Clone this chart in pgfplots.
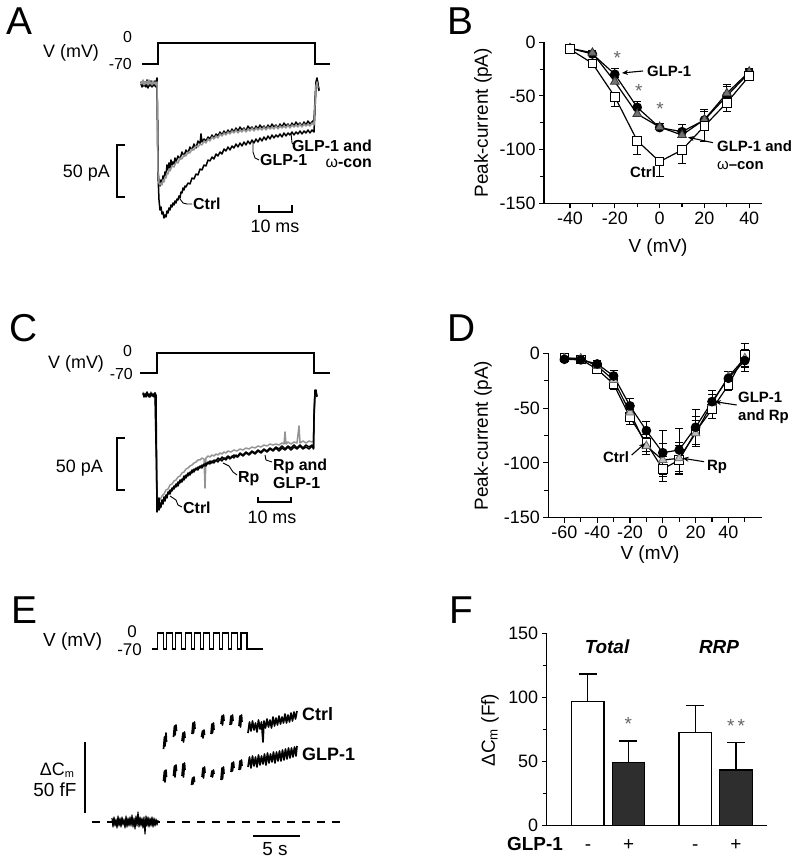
\documentclass[border=0pt]{standalone}
\usepackage{fontspec}
\setmainfont{Liberation Sans}
\usepackage{pgfplots}
\pgfplotsset{compat=1.18}
\usetikzlibrary{arrows.meta}
\newcommand\fs[1]{\fontsize{#1}{#1}\selectfont}
\pgfplotsset{
  iv/.style={
    scale only axis, axis lines=left, axis line style={-, line width=1.1bp},
    tick align=outside, major tick length=5bp, minor tick length=4bp,
    tick style={line width=1.1bp, black},
    /pgf/number format/assume math mode=true,
    ticklabel style={font=\fs{18}},
    label style={font=\fs{19}},
    clip=false,
  },
  trace/.style={no markers, line width=1.5bp, black, line join=round},
  bar/.style={no markers, line width=1.3bp, black},
  eb/.style={error bars/y explicit, error bars/error bar style={line width=1bp, black},
     error bars/error mark options={rotate=90, line width=1bp, mark size=4bp, black}},
  ctrlB/.style={black, line width=1.2bp, mark=square*, mark size=4.3bp, mark options={fill=white, draw=black, line width=1bp}, eb},
  glpB/.style={black, line width=1.2bp, mark=*, mark size=4.2bp, mark options={fill=black, draw=black}, eb},
  triB/.style={black, line width=1.2bp, mark=triangle*, mark size=5bp, mark options={fill=black!55, draw=black!80, line width=0.8bp}, eb},
}
\tikzset{lab/.style={inner sep=0pt, font=\fs{16}\bfseries},
         lb/.style={inner sep=0pt, font=\fs{15}\bfseries},
         tx/.style={inner sep=0pt, font=\fs{18}},
         big/.style={inner sep=0pt, font=\fs{39}}}
\begin{document}
\begin{tikzpicture}[x=1bp,y=1bp]
\useasboundingbox (0,0) rectangle (800,863);

% ---------------- Panel B ----------------
\begin{axis}[iv, at={(544bp,659.7bp)}, anchor=south west, width=218bp, height=161bp,
  xmin=-51.6, xmax=45.7, ymin=-150, ymax=0,
  xtick={-40,-20,0,20,40}, minor xtick={-30,-10,10,30},
  ytick={-150,-100,-50,0}, minor ytick={-125,-75,-25},
  xlabel={V (mV)}, ylabel={Peak-current (pA)},
  xlabel style={at={(axis description cs:0.523,-0.278)}, anchor=center},
  ylabel style={at={(axis description cs:-0.28,0.5)}, anchor=center}]
\addplot[glpB, error bars/y dir=plus] coordinates {
 (-40,-5.6) +- (0,1) (-30,-10.9) +- (0,2) (-20,-29.8) +- (0,5) (-10,-60.6) +- (0,5.3)
 (0,-79.5) +- (0,3.5) (10,-83.3) +- (0,7) (20,-72.4) +- (0,8) (30,-50) +- (0,8.6) (40,-28.3) +- (0,3)};
\addplot[triB, error bars/y dir=plus] coordinates {
 (-40,-5.6) +- (0,1) (-30,-9.8) +- (0,2) (-20,-36.7) +- (0,4) (-10,-66.8) +- (0,4)
 (0,-79) +- (0,3) (10,-86.4) +- (0,5) (20,-72) +- (0,9) (30,-47.5) +- (0,8) (40,-27.4) +- (0,3)};
\addplot[ctrlB, error bars/y dir=minus] coordinates {
 (-40,-6.5) +- (0,1) (-30,-19.6) +- (0,2) (-20,-50.7) +- (0,8.7) (-10,-91.7) +- (0,12.4)
 (0,-111.2) +- (0,13.4) (10,-100.3) +- (0,13) (20,-78) +- (0,14.6) (30,-56.3) +- (0,8.3) (40,-31.4) +- (0,3.6)};
\end{axis}

% ---------------- Panel D ----------------
\begin{axis}[iv, at={(548.3bp,345.3bp)}, anchor=south west, width=213.7bp, height=164.4bp,
  xmin=-69.8, xmax=60.5, ymin=-150, ymax=0,
  xtick={-60,-40,-20,0,20,40}, minor xtick={-50,-30,-10,10,30,50},
  ytick={-150,-100,-50,0}, minor ytick={-125,-75,-25},
  xlabel={V (mV)}, ylabel={Peak-current (pA)},
  xlabel style={at={(axis description cs:0.476,-0.227)}, anchor=center},
  ylabel style={at={(axis description cs:-0.306,0.5)}, anchor=center}]
\addplot[ctrlB, error bars/y dir=both] coordinates {
 (-60,-4) +- (0,1.5) (-50,-5.5) +- (0,1.5) (-40,-14.6) +- (0,3) (-30,-28) +- (0,5) (-20,-58.4) +- (0,7)
 (-10,-82) +- (0,8) (0,-105.6) +- (0,11) (10,-97.4) +- (0,13) (20,-71.5) +- (0,14) (30,-51.1) +- (0,8)
 (40,-28.9) +- (0,5) (50,-1.5) +- (0,10.5)};
\addplot[triB, mark options={fill=black!25, draw=black!60, line width=0.8bp}, error bars/y dir=both] coordinates {
 (-60,-4.6) +- (0,1.5) (-50,-4.6) +- (0,1.5) (-40,-11.6) +- (0,3) (-30,-24.3) +- (0,5) (-20,-54) +- (0,7)
 (-10,-84.6) +- (0,8) (0,-97.4) +- (0,15) (10,-95.8) +- (0,14) (20,-73) +- (0,12) (30,-45.6) +- (0,8)
 (40,-21.3) +- (0,5) (50,-4.6) +- (0,8)};
\addplot[glpB, error bars/y dir=both] coordinates {
 (-60,-5.5) +- (0,1.5) (-50,-6) +- (0,1.5) (-40,-9.7) +- (0,3) (-30,-20.7) +- (0,5) (-20,-48) +- (0,7)
 (-10,-70.6) +- (0,8) (0,-90.7) +- (0,20) (10,-88.2) +- (0,20) (20,-67.5) +- (0,16) (30,-44.1) +- (0,10)
 (40,-22.8) +- (0,6) (50,-6.7) +- (0,10)};
\end{axis}

% ---------------- Panel F ----------------
\begin{axis}[iv, at={(546.7bp,37.3bp)}, anchor=south west, width=220.3bp, height=192.4bp,
  xmin=-1.007, xmax=4.4, ymin=0, ymax=150,
  xtick=\empty, ytick={0,50,100,150}, minor ytick={25,75,125},
  ylabel={ΔC\textsubscript{m} (Ff)},
  ylabel style={at={(axis description cs:-0.257,0.497)}, anchor=center}]
\addplot[ybar, bar width=0.8, bar shift=0pt, fill=white, draw=black, line width=1.3bp,
  error bars/.cd, y dir=plus, y explicit, error bar style={line width=1.3bp}, error mark options={rotate=90, line width=1.3bp, mark size=9bp}]
  coordinates {(0,96.6) +- (0,21.6) (2.64,72.5) +- (0,21.3)};
\addplot[ybar, bar width=0.8, bar shift=0pt, fill=black!82, draw=black, line width=1.3bp,
  error bars/.cd, y dir=plus, y explicit, error bar style={line width=1.3bp}, error mark options={rotate=90, line width=1.3bp, mark size=9bp}]
  coordinates {(1,49.1) +- (0,17) (3.64,43.4) +- (0,21.6)};
\end{axis}

% ---------------- Background axis in pixel coordinates ----------------
\begin{axis}[at={(0,0)}, anchor=south west, width=800bp, height=863bp, scale only axis,
  xmin=0, xmax=800, ymin=0, ymax=863, y dir=reverse, hide axis, clip=false]

% ===== Panel A =====
\addplot[bar, line width=1.2bp] coordinates {(142,64) (158,64) (158,43) (315,43) (315,64) (330,64)};
\addplot[trace] coordinates {(141,84) (142,87) (143,83) (144,86) (145,82) (146,87) (147,84) (148,88) (149,83) (150,86) (151,84) (152,87) (153,82) (154,86) (155,84) (156,87) (157,83) (157.5,120) (158,175) (159,200) (160,210) (161,207) (162,214) (163,212) (164,218) (165,215) (166,217) (167,211) (168,213) (169,208) (170,210) (171,205) (172,207) (173,203) (174,205) (175,201) (176,203) (177,199) (178,200) (179,196) (180,198) (181,192) (182,193) (183,188) (184,190) (185,186) (186,187) (188,183) (190,184) (192,178) (194,179) (196,174) (198,175) (200,169) (202,170) (204,165) (206,166) (208,160) (210,161) (212,157) (214,159) (216,154) (218,156) (220,152) (222,154) (224,149) (226,151) (228,147) (230,150) (232,146) (234,148) (236,144) (238,147) (240,143) (242,146) (244,142) (246,145) (248,141) (250,144) (252,140) (254,143) (256,139) (258,142) (260,138) (262,141) (264,137) (266,140) (268,136) (270,139) (272,135) (274,138) (276,135) (278,137) (280,134) (282,137) (284,133) (286,136) (288,133) (290,135) (292,132) (294,135) (296,132) (298,134) (300,131) (302,134) (304,131) (306,133) (308,130) (310,133) (312,130) (314,132) (315,110) (316,85) (317,79) (318,84) (319,91)};
\addplot[trace] coordinates {(141,82) (142,85) (143,81) (144,86) (145,83) (146,85) (147,80) (148,86) (149,82) (150,85) (151,81) (152,86) (153,83) (154,85) (155,81) (156,84) (157,78) (157.5,120) (158,170) (159,182) (160,186) (161,180) (162,183) (163,176) (164,179) (165,172) (166,175) (167,165) (168,170) (169,163) (170,168) (171,160) (172,165) (173,162) (174,164) (175,158) (176,162) (178,156) (180,159) (182,152) (184,156) (186,150) (188,153) (190,147) (192,150) (194,144) (196,148) (198,141) (200,144) (201,134) (202,142) (204,139) (206,141) (208,137) (210,139) (212,135) (214,138) (216,134) (218,136) (220,132) (222,135) (224,131) (226,134) (228,130) (230,133) (232,129) (234,132) (236,128) (238,131) (240,127) (242,130) (244,128) (246,131) (248,126) (250,129) (252,127) (254,130) (256,126) (258,129) (260,125) (262,128) (264,126) (266,129) (268,125) (270,128) (272,124) (274,127) (276,125) (278,128) (280,124) (282,127) (284,123) (286,126) (288,124) (290,127) (292,123) (294,126) (296,122) (298,125) (300,123) (302,126) (304,122) (306,125) (308,121) (310,124) (312,122) (314,120) (315,100) (316,82) (317,78) (318,85) (319,90)};
\addplot[trace, black!42] coordinates {(141,81) (142,84) (143,80) (144,85) (145,82) (146,84) (147,81) (148,85) (149,80) (150,84) (151,82) (152,85) (153,81) (154,84) (155,82) (156,85) (157,82) (157.5,130) (158,172) (159,183) (160,185) (161,183) (162,185) (163,180) (164,182) (165,177) (166,178) (167,173) (168,174) (169,169) (170,171) (172,166) (174,167) (176,162) (178,163) (180,158) (182,159) (184,155) (186,156) (188,152) (190,153) (192,149) (194,150) (196,146) (198,147) (200,144) (202,145) (204,141) (206,143) (208,139) (210,141) (212,137) (214,139) (216,136) (218,138) (220,134) (222,136) (224,133) (226,135) (228,132) (230,134) (232,131) (234,133) (236,130) (238,133) (240,130) (242,132) (244,129) (246,132) (248,129) (250,131) (252,128) (254,131) (256,128) (258,130) (260,128) (262,130) (264,127) (266,130) (268,127) (270,129) (272,127) (274,129) (276,126) (278,129) (280,126) (282,128) (284,126) (286,128) (288,125) (290,128) (292,125) (294,127) (296,125) (298,127) (300,124) (302,127) (304,124) (306,126) (308,124) (310,126) (312,123) (314,125) (315,105) (316,86) (317,82) (318,88)};
\addplot[bar] coordinates {(125,145) (117,145) (117,197) (125,197)};
\addplot[bar] coordinates {(259,205) (259,212) (292,212) (292,205)};
\addplot[bar, line width=0.9bp] coordinates {(180,199) (183,203) (187,204) (192,204)};
\addplot[bar, line width=0.9bp] coordinates {(253,141) (253,152) (255,158) (259,160)};
\addplot[bar, line width=0.9bp] coordinates {(291,133) (292,143) (295,146)};
\node[big, anchor=base west] at (axis cs:6,35) {A};
\node[tx, anchor=base west] at (axis cs:43,58) {V (mV)};
\node[tx, font=\fs{16}, anchor=base] at (axis cs:127.5,43) {0};
\node[tx, font=\fs{16}, anchor=base east] at (axis cs:132,70) {-70};
\node[tx, anchor=base east] at (axis cs:110,178) {50 pA};
\node[tx, anchor=base] at (axis cs:275,233) {10 ms};
\node[lab, anchor=base west] at (axis cs:193,210) {Ctrl};
\node[lab, anchor=base west] at (axis cs:260,166) {GLP-1};
\node[lab, anchor=base east] at (axis cs:372,152) {GLP-1 and};
\node[lab, anchor=base east] at (axis cs:372,168) {{\mdseries ω}-con};

% ===== Panel C =====
\addplot[bar, line width=1.2bp] coordinates {(140,373) (157,373) (157,353) (314,353) (314,373) (330,373)};
\addplot[trace, black!42] coordinates {(143,392) (145,395) (147,393) (149,396) (151,392) (153,395) (155,393) (156.5,460) (157,505) (158,498) (160,500) (162,496) (164,494) (166,490) (168,489) (170,485) (172,484) (174,481) (176,480) (178,477) (180,476) (182,473) (184,472) (186,469) (188,468) (190,466) (192,465) (194,463) (196,462) (198,460) (200,460) (202,458) (204,459) (205,488) (206,458) (208,456) (210,457) (212,455) (214,456) (216,454) (218,455) (220,453) (222,454) (224,452) (226,453) (228,451) (231,452) (234,450) (237,451) (240,449) (243,450) (246,448) (249,449) (252,447) (255,448) (258,446) (261,447) (264,445) (267,446) (270,444) (273,445) (276,444) (279,445) (282,443) (284,444) (285,432) (286,444) (288,442) (291,444) (294,442) (297,443) (299,426) (300,443) (303,441) (306,443) (309,441) (312,442) (313.5,441) (314,415) (315,392) (316,395)};
\addplot[trace] coordinates {(143,393) (144,397) (145,394) (146,397) (147,393) (148,396) (149,394) (150,397) (151,393) (152,396) (153,394) (154,397) (155,393) (156,395) (156.5,450) (157,512) (158,500) (159,510) (160,503) (161,507) (162,500) (163,504) (164,497) (165,501) (166,495) (167,498) (168,492) (170,494) (172,488) (174,489) (176,484) (178,486) (180,480) (182,482) (184,476) (186,478) (188,473) (190,475) (192,470) (194,472) (196,468) (198,470) (200,466) (202,468) (204,464) (206,466) (208,462) (210,464) (212,461) (214,463) (216,460) (218,462) (220,459) (222,461) (224,458) (226,460) (228,457) (230,459) (232,456) (234,458) (236,455) (238,457) (240,454) (243,456) (246,453) (249,455) (252,452) (255,454) (258,451) (261,453) (264,450) (267,452) (270,449) (273,451) (276,448) (279,451) (282,448) (285,450) (288,447) (291,450) (294,447) (297,449) (300,446) (303,449) (306,447) (309,449) (312,446) (313.5,449) (314,420) (315,392) (316,390) (317,397)};
\addplot[trace] coordinates {(143,394) (145,396) (147,392) (149,397) (151,394) (153,396) (155,393) (156.5,470) (157,508) (158,505) (159,498) (160,508) (162,502) (164,499) (166,496) (168,494) (170,490) (172,491) (174,486) (176,487) (178,482) (180,483) (182,479) (184,480) (186,475) (188,476) (190,472) (192,473) (194,469) (196,470) (198,467) (200,468) (202,465) (204,466) (206,463) (208,464) (210,461) (212,463) (214,460) (216,461) (218,458) (220,460) (222,457) (224,459) (226,458) (228,456) (231,458) (234,455) (237,457) (240,453) (243,455) (246,452) (249,454) (252,451) (255,453) (258,450) (261,452) (264,449) (267,451) (270,448) (273,450) (276,447) (279,449) (282,446) (285,449) (288,446) (291,448) (294,445) (297,448) (300,445) (303,448) (306,445) (309,447) (312,445) (313.5,448) (314,415) (315,390) (316,393) (317,396)};
\addplot[bar] coordinates {(125,438) (117,438) (117,490) (125,490)};
\addplot[bar] coordinates {(258,497) (258,502) (291,502) (291,497)};
\addplot[bar, line width=0.9bp] coordinates {(170,496) (176,500) (178,505) (182,507)};
\addplot[bar, line width=0.9bp] coordinates {(223,463) (229,466) (233,472) (237,475)};
\addplot[bar, line width=0.9bp] coordinates {(265,455) (266,460) (272,462)};
\node[big, anchor=base west] at (axis cs:9,342) {C};
\node[tx, anchor=base west] at (axis cs:48,369) {V (mV)};
\node[tx, font=\fs{16}, anchor=base] at (axis cs:127.5,357) {0};
\node[tx, font=\fs{16}, anchor=base east] at (axis cs:133,380) {-70};
\node[tx, anchor=base east] at (axis cs:103,472) {50 pA};
\node[tx, anchor=base] at (axis cs:272,523) {10 ms};
\node[lab, anchor=base west] at (axis cs:183,513) {Ctrl};
\node[lab, anchor=base west] at (axis cs:238,482) {Rp};
\node[lab, anchor=base west] at (axis cs:273,470) {Rp and};
\node[lab, anchor=base west] at (axis cs:273,488) {GLP-1};

% ===== Panel E =====
\addplot[bar, line width=1.1bp] coordinates {(151.7,649) (157.3,649) (157.3,633) (163.3,633) (163.3,649) (166.6,649) (166.6,633) (172.6,633) (172.6,649) (175.9,649) (175.9,633) (181.9,633) (181.9,649) (185.2,649) (185.2,633) (191.2,633) (191.2,649) (194.5,649) (194.5,633) (200.5,633) (200.5,649) (203.8,649) (203.8,633) (209.8,633) (209.8,649) (213.1,649) (213.1,633) (219.1,633) (219.1,649) (222.4,649) (222.4,633) (228.4,633) (228.4,649) (231.7,649) (231.7,633) (237.7,633) (237.7,649) (241,649) (241,633) (247,633) (247,649) (263,649)};
\addplot[bar, line width=1.2bp, dash pattern=on 8bp off 7bp] coordinates {(92,822) (340,822)};
\addplot[trace, line width=1.2bp] coordinates {(112,818) (113,827) (114,817) (115,826) (116,819) (117,828) (118,816) (119,826) (120,818) (121,827) (122,817) (123,825) (124,819) (125,828) (126,816) (127,827) (128,818) (129,826) (130,817) (131,826) (132,815) (133,827) (134,818) (135,829) (136,816) (137,826) (138,812) (139,827) (140,817) (141,826) (142,818) (143,828) (144,817) (145,834) (146,816) (147,826) (148,817) (149,827) (150,818) (151,826) (152,817) (153,827) (154,818) (155,826) (156,819) (157,825) (158,820)};
\addplot[trace, line width=1.7bp, unbounded coords=jump] coordinates {
 (163.5,749) (164.5,737) (165,746) (166,733) (166.5,742) (170,nan)
 (173.5,737) (174.5,726) (175,735) (176,725) (176.5,731) (179,nan)
 (182,741) (183,733) (183.5,742) (184.5,732) (185,738) (188,nan)
 (192,734) (193,723) (193.5,733) (194.5,722) (195,729) (198,nan)
 (201.5,737) (202.5,731) (203,738) (204,730) (204.5,735) (208,nan)
 (211,734) (212,724) (212.5,733) (213.5,723) (214,730) (218,nan)
 (221,724) (222,716) (222.5,725) (223.5,715) (224,721) (227,nan)
 (230,725) (231,716) (231.5,724) (232.5,715) (233,721) (236,nan)
 (239,726) (240,716) (240.5,727) (241.5,715) (242,722) (245,nan)
 (248,733) (249.5,722) (251,731) (252.5,721) (254,730) (255.5,723) (257,732) (258.5,720) (260,729) (261.5,722) (263,742) (264,721) (265.5,728) (267,719) (268.5,727) (270,720) (271.5,728) (273,717) (274.5,726) (276,718) (277.5,725) (279,716) (280.5,724) (282,717) (283.5,723) (285,714) (286.5,723) (288,715) (289.5,722) (291,713) (292.5,721) (294,712) (295.5,719) (297,711)};
\addplot[trace, line width=1.7bp, unbounded coords=jump] coordinates {
 (163.5,781) (164.5,771) (165,782) (166,770) (166.5,777) (170,nan)
 (173.5,776) (174.5,766) (175,777) (176,765) (176.5,771) (179,nan)
 (182,776) (183,764) (183.5,777) (184.5,763) (185,770) (188,nan)
 (191.5,785) (192.5,778) (193,784) (194,777) (194.5,782) (198,nan)
 (202,777) (203,768) (203.5,778) (204.5,767) (205,773) (208,nan)
 (211,777) (212,771) (212.5,777) (213.5,770) (214,774) (218,nan)
 (221,780) (222,768) (222.5,779) (223.5,767) (224,774) (227,nan)
 (231,772) (232,763) (232.5,771) (233.5,762) (234,768) (237,nan)
 (239,770) (240,761) (240.5,769) (241.5,760) (242,766) (245,nan)
 (248,767) (249.5,757) (251,768) (252.5,756) (254,766) (255.5,757) (257,767) (258.5,755) (260,765) (261.5,756) (263,764) (264.5,754) (266,765) (267.5,753) (269,763) (270.5,754) (272,762) (273.5,752) (275,763) (276.5,752) (278,761) (279.5,751) (281,761) (282.5,750) (284,760) (285.5,749) (287,759) (288.5,748) (290,758) (291.5,748) (293,757) (294.5,747) (296,756) (297,746)};
\addplot[bar] coordinates {(85,742) (85,813)};
\addplot[bar] coordinates {(253,836) (300,836)};
\node[big, anchor=base west] at (axis cs:11,623) {E};
\node[tx, font=\fs{19}, anchor=base west] at (axis cs:43,646) {V (mV)};
\node[tx, font=\fs{17}, anchor=base] at (axis cs:132,637) {0};
\node[tx, font=\fs{17}, anchor=base east] at (axis cs:142,655) {-70};
\node[tx, font=\fs{18}, anchor=base] at (axis cs:57,775) {ΔC{\fs{11}\raisebox{-2.5bp}{m}}};
\node[tx, font=\fs{19}, anchor=base] at (axis cs:55,796) {50 fF};
\node[tx, font=\fs{18}\bfseries, anchor=base west] at (axis cs:302,720) {Ctrl};
\node[tx, font=\fs{18}\bfseries, anchor=base west] at (axis cs:302,760) {GLP-1};
\node[tx, font=\fs{19}, anchor=base] at (axis cs:275,855) {5 s};

% ===== Panel B annotations =====
\node[big, anchor=base west] at (axis cs:447,35) {B};
\node[lb, anchor=base west] at (axis cs:647,76.5) {GLP-1};
\draw[line width=1.1bp, -{Stealth[length=6bp,width=5bp]}] (axis cs:643,71) -- (axis cs:622,73);
\node[lb, anchor=base west] at (axis cs:717,152) {GLP-1 and};
\node[lb, anchor=base west] at (axis cs:717,170) {{\mdseries ω}--con};
\draw[line width=1.1bp, -{Stealth[length=6bp,width=5bp]}] (axis cs:713,142.7) -- (axis cs:688,137.3);
\node[lb, anchor=base west] at (axis cs:630,178) {Ctrl};
\node[inner sep=0pt, font=\fs{19}, text=black!60] at (axis cs:617.3,58) {*};
\node[inner sep=0pt, font=\fs{19}, text=black!60] at (axis cs:638.7,91) {*};
\node[inner sep=0pt, font=\fs{19}, text=black!60] at (axis cs:660,108.5) {*};

% ===== Panel D annotations =====
\node[big, anchor=base west] at (axis cs:447,342) {D};
\node[lb, anchor=base west] at (axis cs:738,403) {GLP-1};
\node[lb, anchor=base west] at (axis cs:738,421) {and Rp};
\draw[line width=1.1bp, -{Stealth[length=6bp,width=5bp]}] (axis cs:736.7,405) -- (axis cs:715,401.7);
\node[lb, anchor=base west] at (axis cs:603,462) {Ctrl};
\draw[line width=1.1bp, -{Stealth[length=6bp,width=5bp]}] (axis cs:631.7,455) -- (axis cs:645,443.3);
\node[lb, anchor=base west] at (axis cs:707,470) {Rp};
\draw[line width=1.1bp, -{Stealth[length=6bp,width=5bp]}] (axis cs:704,461.7) -- (axis cs:682.7,458.3);

% ===== Panel F annotations =====
\node[big, anchor=base west] at (axis cs:449,623) {F};
\node[inner sep=0pt, font=\fs{19}\bfseries\itshape, anchor=base] at (axis cs:607,653) {Total};
\node[inner sep=0pt, font=\fs{19}\bfseries\itshape, anchor=base] at (axis cs:719,653) {RRP};
\node[inner sep=0pt, font=\fs{19}, text=black!60] at (axis cs:628.3,724) {*};
\node[inner sep=0pt, font=\fs{19}, text=black!60] at (axis cs:736,726) {*\,*};
\node[inner sep=0pt, font=\fs{19}\bfseries, anchor=base west] at (axis cs:507,850) {GLP-1};
\node[inner sep=0pt, font=\fs{19}, anchor=base] at (axis cs:588,850) {-};
\node[inner sep=0pt, font=\fs{19}, anchor=base] at (axis cs:628.7,850) {+};
\node[inner sep=0pt, font=\fs{19}, anchor=base] at (axis cs:695.3,850) {-};
\node[inner sep=0pt, font=\fs{19}, anchor=base] at (axis cs:735.8,850) {+};
\end{axis}
\end{tikzpicture}
\end{document}
